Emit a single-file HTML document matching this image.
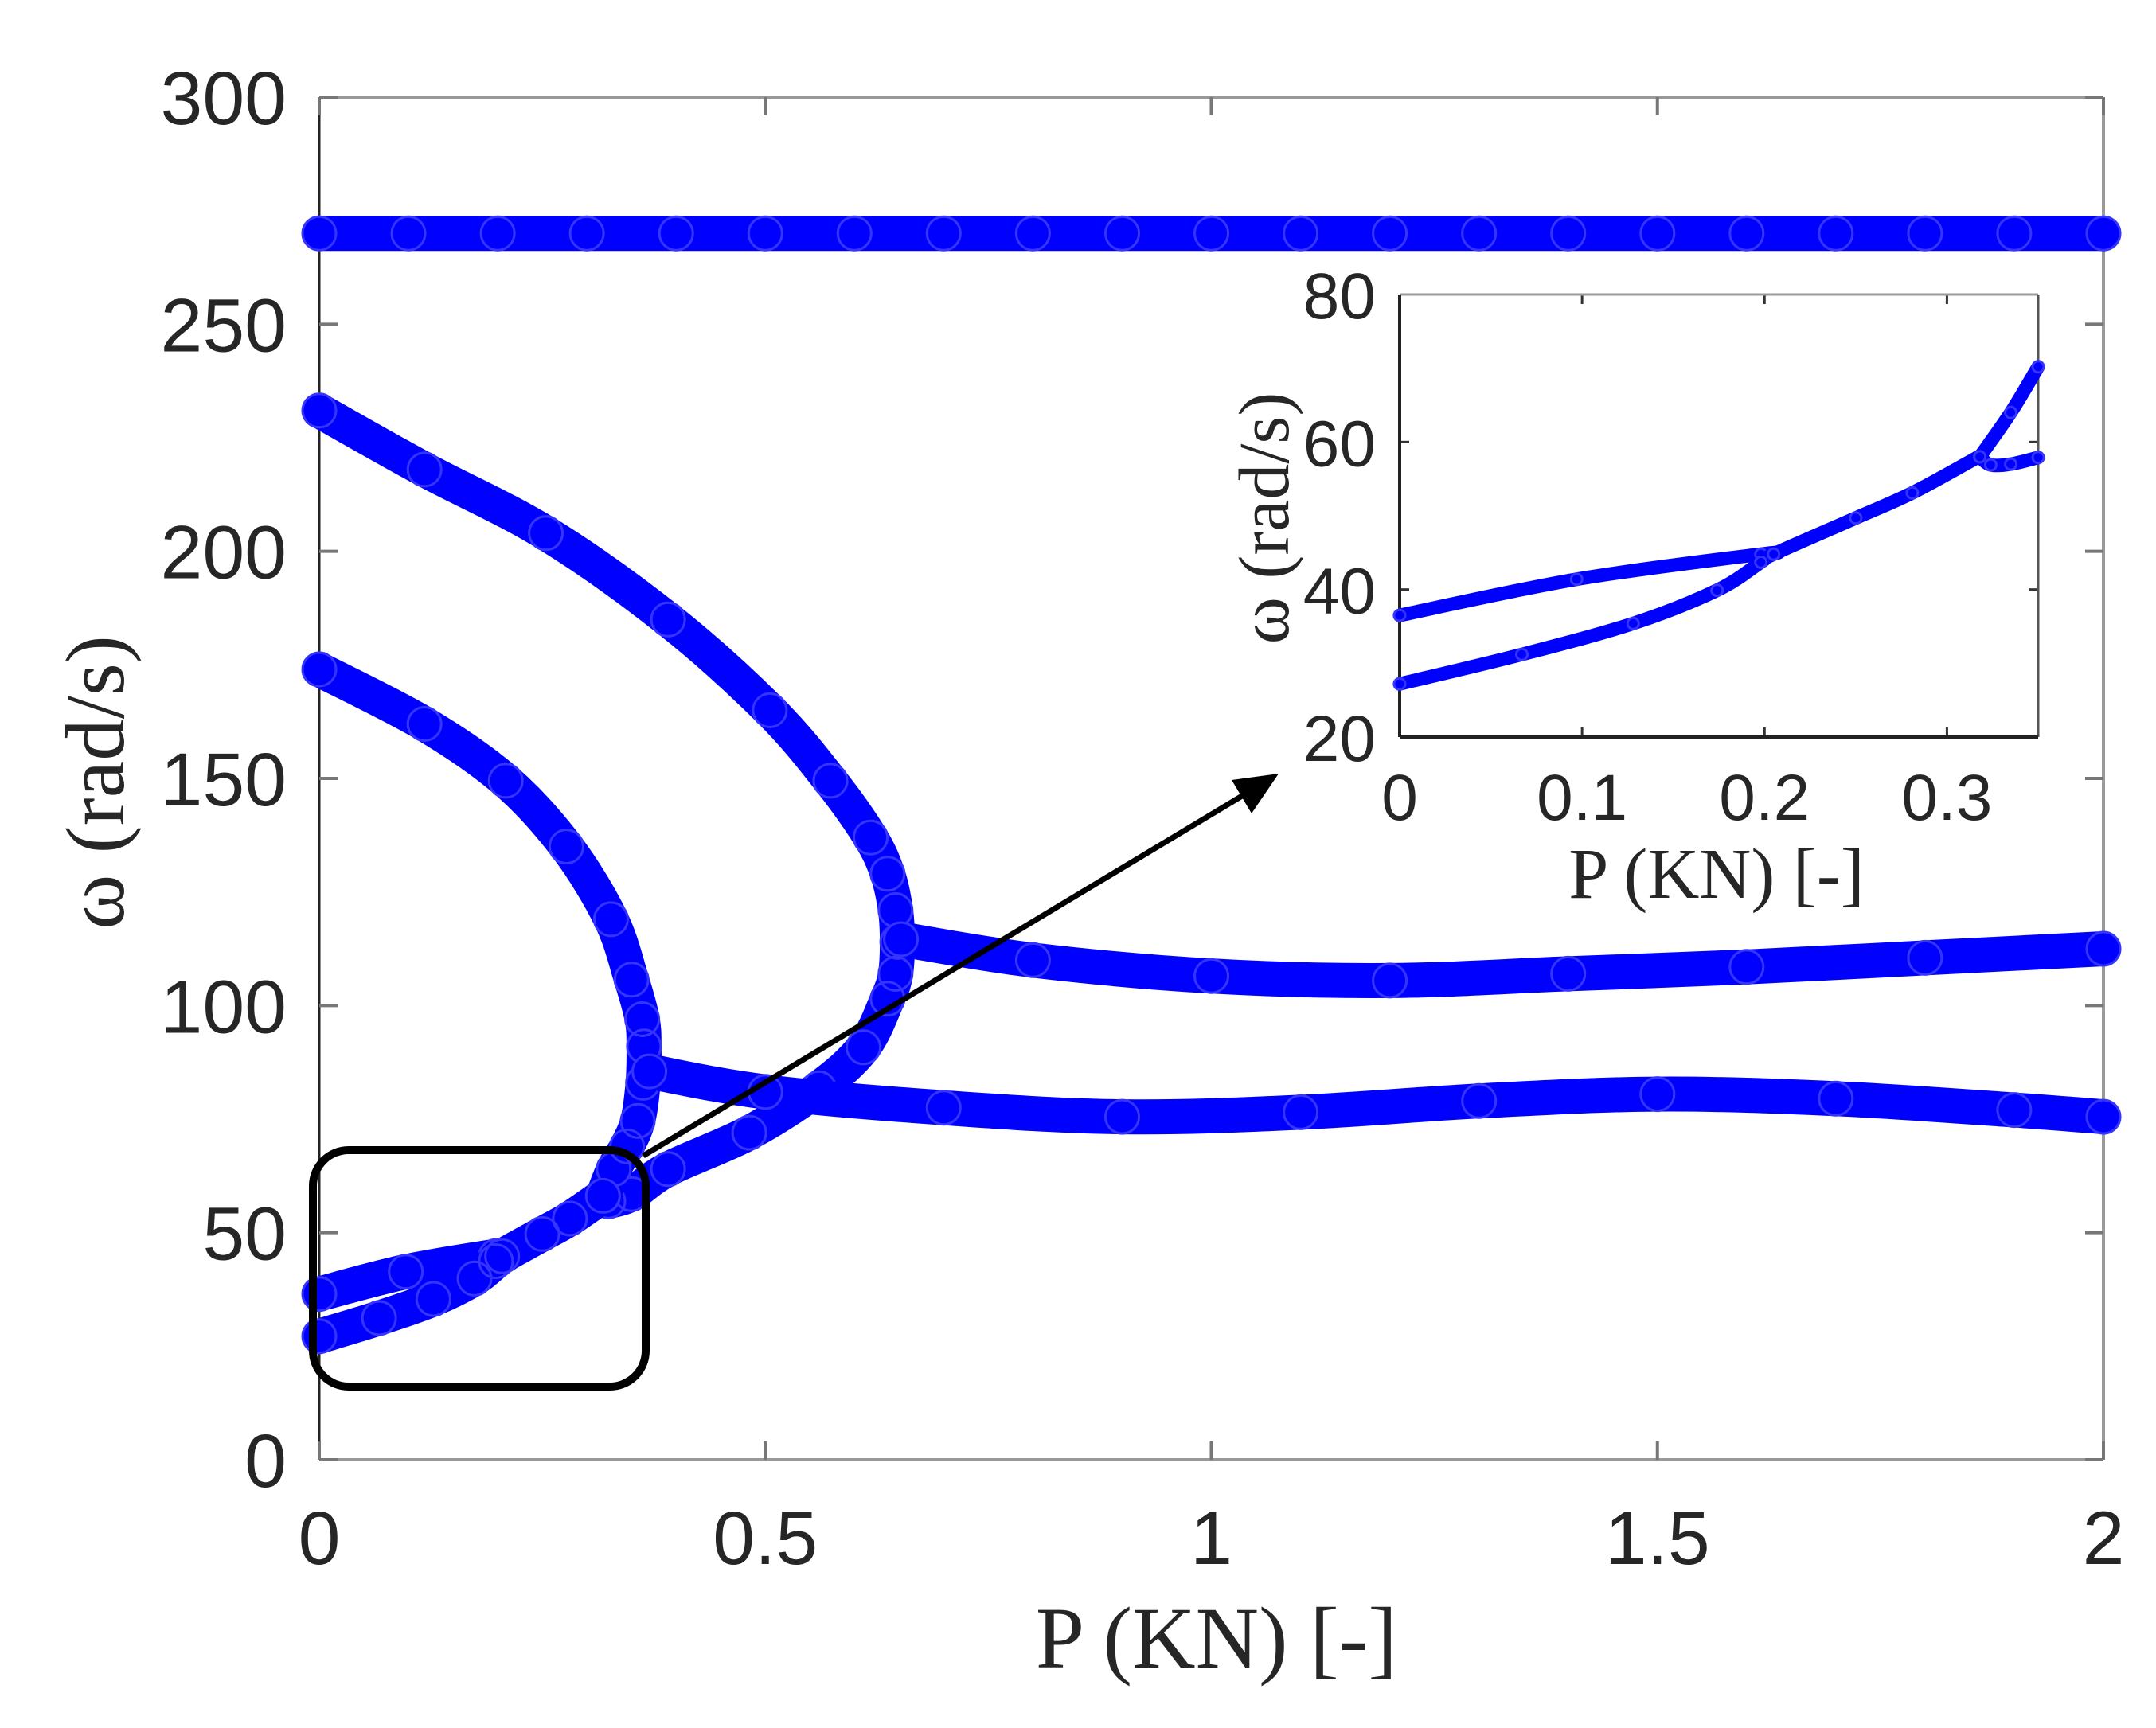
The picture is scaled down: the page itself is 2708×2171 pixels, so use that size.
<!DOCTYPE html>
<html><head><meta charset="utf-8"><style>
html,body{margin:0;padding:0;background:#fff;}
svg{display:block;}
.tk{font-family:"Liberation Sans",sans-serif;fill:#262626;}
.ti{font-family:"Liberation Serif",serif;fill:#262626;}
</style></head><body>
<svg id="chart" width="2708" height="2171" viewBox="0 0 2708 2171" xmlns="http://www.w3.org/2000/svg">
<rect width="2708" height="2171" fill="#fff"/>
<g id="main"></g>
<g id="inset"></g>
</svg>
<script>
// main chart data (P [KN], omega [rad/s])
const xTicks = [0, 0.5, 1, 1.5, 2];
const xTickLabels = ["0", "0.5", "1", "1.5", "2"];
const yTicks = [0, 50, 100, 150, 200, 250, 300];
const yTickLabels = ["0", "50", "100", "150", "200", "250", "300"];
const s270P = [0,0.1,0.2,0.3,0.4,0.5,0.6,0.7,0.8,0.9,1,1.1,1.2,1.3,1.4,1.5,1.6,1.7,1.8,1.9,2];
const s270W = [270,270,270,270,270,270,270,270,270,270,270,270,270,270,270,270,270,270,270,270,270];
const branchAP = [0,0.118,0.209,0.277,0.327,0.35,0.362,0.364,0.363,0.357,0.345,0.33,0.318];
const branchAW = [174,162,149.5,135,119,105.7,97,91,83,74.6,69,64,58];
const branchBP = [0,0.118,0.254,0.391,0.505,0.573,0.618,0.637,0.646,0.648,0.646,0.637,0.61,0.56,0.482,0.391,0.35,0.324];
const branchBW = [231,218,204,185,165,149.5,137,129,121,114,107,101.5,90.8,81.8,72,64,58.5,56.9];
const lowUpperP = [0,0.097,0.198,0.205];
const lowUpperW = [36.5,41.4,44.8,44.8];
const lowLowerP = [0,0.067,0.128,0.174,0.198,0.205,0.25,0.281,0.318];
const lowLowerW = [27.2,31.2,35.4,39.9,43.7,44.8,49.7,53.1,58.1];
const branchCP = [0.652,0.8,1.0,1.2,1.4,1.6,1.8,2];
const branchCW = [114.6,110,106.5,105.5,107,108.5,110.5,112.5];
const branchDP = [0.37,0.5,0.7,0.9,1.1,1.3,1.5,1.7,1.9,2];
const branchDW = [85.5,81,77.5,75.5,76.5,79,80.5,79.5,77,75.5];
// inset data
const inXTicks = [0, 0.1, 0.2, 0.3];
const inXTickLabels = ["0", "0.1", "0.2", "0.3"];
const inYTicks = [20, 40, 60, 80];
const inYTickLabels = ["20", "40", "60", "80"];
const inUpperP = [0,0.097,0.198,0.205];
const inUpperW = [36.5,41.4,44.8,44.8];
const inLowerP = [0,0.067,0.128,0.174,0.198,0.205,0.25,0.281,0.318];
const inLowerW = [27.2,31.2,35.4,39.9,43.7,44.8,49.7,53.1,58.1];
const inRiseP = [0.318,0.335,0.35];
const inRiseW = [58,64,70.2];
const inFlatP = [0.318,0.324,0.335,0.35];
const inFlatW = [58,56.9,57,57.9];

const NS = "http://www.w3.org/2000/svg";
function mk(tag, attrs, parent){const e=document.createElementNS(NS,tag);for(const k in attrs)e.setAttribute(k,attrs[k]);parent.appendChild(e);return e;}

// main axes
const L=401,R=2642,T=122,B=1834;
const xS=p=>L+(p-0)/(2-0)*(R-L);
const yS=w=>B-(w-0)/(300-0)*(B-T);
const main=document.getElementById('main');

function smoothPath(pts){
  if(pts.length<3){return 'M'+pts.map(p=>p[0].toFixed(1)+' '+p[1].toFixed(1)).join('L');}
  let d='M'+pts[0][0].toFixed(1)+' '+pts[0][1].toFixed(1);
  for(let i=0;i<pts.length-1;i++){
    const p0=pts[Math.max(0,i-1)],p1=pts[i],p2=pts[i+1],p3=pts[Math.min(pts.length-1,i+2)];
    const c1=[p1[0]+(p2[0]-p0[0])/6,p1[1]+(p2[1]-p0[1])/6];
    const c2=[p2[0]-(p3[0]-p1[0])/6,p2[1]-(p3[1]-p1[1])/6];
    d+='C'+c1[0].toFixed(1)+' '+c1[1].toFixed(1)+' '+c2[0].toFixed(1)+' '+c2[1].toFixed(1)+' '+p2[0].toFixed(1)+' '+p2[1].toFixed(1);
  }
  return d;
}

function series(P,W,name,xs,ys,lw,r,parent){
  const g=mk('g',{},parent);
  
  
  const pts=P.map((p,i)=>[xs(p),ys(W[i])]);
  const pa=mk('path',{d:smoothPath(pts),fill:'none',stroke:'#0000ff','stroke-width':lw,'stroke-linecap':'round','stroke-linejoin':'round'},g);
  
  
  P.forEach((p,i)=>{
    const c=mk('circle',{cx:xs(p).toFixed(1),cy:ys(W[i]).toFixed(1),r:r,fill:'none',stroke:'#3535ff','stroke-width':3},g);
    
    
  });
}

// axes box
mk('line',{x1:L,y1:T,x2:R,y2:T,stroke:'#999','stroke-width':4},main);
mk('line',{x1:R,y1:T,x2:R,y2:B,stroke:'#999','stroke-width':4},main);
mk('line',{x1:L,y1:B,x2:R,y2:B,stroke:'#999','stroke-width':4},main);
mk('line',{x1:L,y1:T,x2:L,y2:B,stroke:'#222','stroke-width':3},main);
xTicks.forEach((v,i)=>{
  const x=xS(v);
  mk('line',{x1:x,y1:B,x2:x,y2:B-23,stroke:'#777','stroke-width':4},main);
  mk('line',{x1:x,y1:T,x2:x,y2:T+23,stroke:'#777','stroke-width':4},main);
  const t=mk('text',{x:x,y:1965,'font-size':95,'text-anchor':'middle',class:'tk'},main);
  t.textContent=xTickLabels[i];
  
  
});
yTicks.forEach((v,i)=>{
  const y=yS(v);
  mk('line',{x1:L,y1:y,x2:L+23,y2:y,stroke:'#777','stroke-width':4},main);
  mk('line',{x1:R,y1:y,x2:R-23,y2:y,stroke:'#777','stroke-width':4},main);
  const t=mk('text',{x:360,y:y+34,'font-size':95,'text-anchor':'end',class:'tk'},main);
  t.textContent=yTickLabels[i];
  
  
});
let xt=mk('text',{x:1528,y:2095,'font-size':110,'text-anchor':'middle',class:'ti'},main);
xt.textContent='P (KN) [-]';


let yt=mk('text',{x:0,y:0,'font-size':105,'text-anchor':'middle',class:'ti',transform:'translate(155,983) rotate(-90)'},main);
yt.textContent='ω (rad/s)';



series(s270P,s270W,'series-270',xS,yS,44,21,main);
series(branchBP,branchBW,'branch-b',xS,yS,44,21,main);
series(branchAP,branchAW,'branch-a',xS,yS,44,21,main);
series(lowUpperP,lowUpperW,'low-upper',xS,yS,44,21,main);
series(lowLowerP,lowLowerW,'low-lower',xS,yS,44,21,main);
series(branchCP,branchCW,'branch-c',xS,yS,44,21,main);
series(branchDP,branchDW,'branch-d',xS,yS,44,21,main);

// zoom box and arrow
let zb=mk('rect',{x:393,y:1445,width:418,height:297,rx:45,ry:45,fill:'none',stroke:'#000','stroke-width':10},main);


let ar=mk('line',{x1:808,y1:1452,x2:1570,y2:994,stroke:'#000','stroke-width':7},main);


let ah=mk('polygon',{points:'1606,972 1547,980 1572,1022',fill:'#000'},main);



// inset
const IL=1758,IR=2560,IT=370,IB=926;
const ixS=p=>IL+(p-0)/(0.35-0)*(IR-IL);
const iyS=w=>IB-(w-20)/(80-20)*(IB-IT);
const inset=document.getElementById('inset');
mk('rect',{x:IL,y:IT,width:IR-IL,height:IB-IT,fill:'#fff'},inset);
inXTicks.forEach((v,i)=>{
  const x=ixS(v);
  mk('line',{x1:x,y1:IB,x2:x,y2:IB-12,stroke:'#333','stroke-width':3},inset);
  mk('line',{x1:x,y1:IT,x2:x,y2:IT+12,stroke:'#333','stroke-width':3},inset);
  const t=mk('text',{x:x,y:1030,'font-size':82,'text-anchor':'middle',class:'tk'},inset);
  t.textContent=inXTickLabels[i];
  
  
});
inYTicks.forEach((v,i)=>{
  const y=iyS(v);
  mk('line',{x1:IL,y1:y,x2:IL+12,y2:y,stroke:'#333','stroke-width':3},inset);
  mk('line',{x1:IR,y1:y,x2:IR-12,y2:y,stroke:'#333','stroke-width':3},inset);
  const t=mk('text',{x:1728,y:y+30,'font-size':82,'text-anchor':'end',class:'tk'},inset);
  t.textContent=inYTickLabels[i];
  
  
});
mk('line',{x1:IL,y1:IT,x2:IR,y2:IT,stroke:'#999','stroke-width':3},inset);
mk('line',{x1:IR,y1:IT,x2:IR,y2:IB,stroke:'#555','stroke-width':3},inset);
mk('line',{x1:IL,y1:IB,x2:IR,y2:IB,stroke:'#222','stroke-width':4},inset);
mk('line',{x1:IL,y1:IT,x2:IL,y2:IB,stroke:'#222','stroke-width':4},inset);
let ixt=mk('text',{x:2156,y:1128,'font-size':90,'text-anchor':'middle',class:'ti'},inset);
ixt.textContent='P (KN) [-]';


let iyt=mk('text',{x:0,y:0,'font-size':90,'text-anchor':'middle',class:'ti',transform:'translate(1618,651) rotate(-90)'},inset);
iyt.textContent='ω (rad/s)';


series(inUpperP,inUpperW,'inset-upper',ixS,iyS,17,7,inset);
series(inLowerP,inLowerW,'inset-lower',ixS,iyS,17,7,inset);
series(inRiseP,inRiseW,'inset-rise',ixS,iyS,17,7,inset);
series(inFlatP,inFlatW,'inset-flat',ixS,iyS,17,7,inset);
</script>
</body></html>
